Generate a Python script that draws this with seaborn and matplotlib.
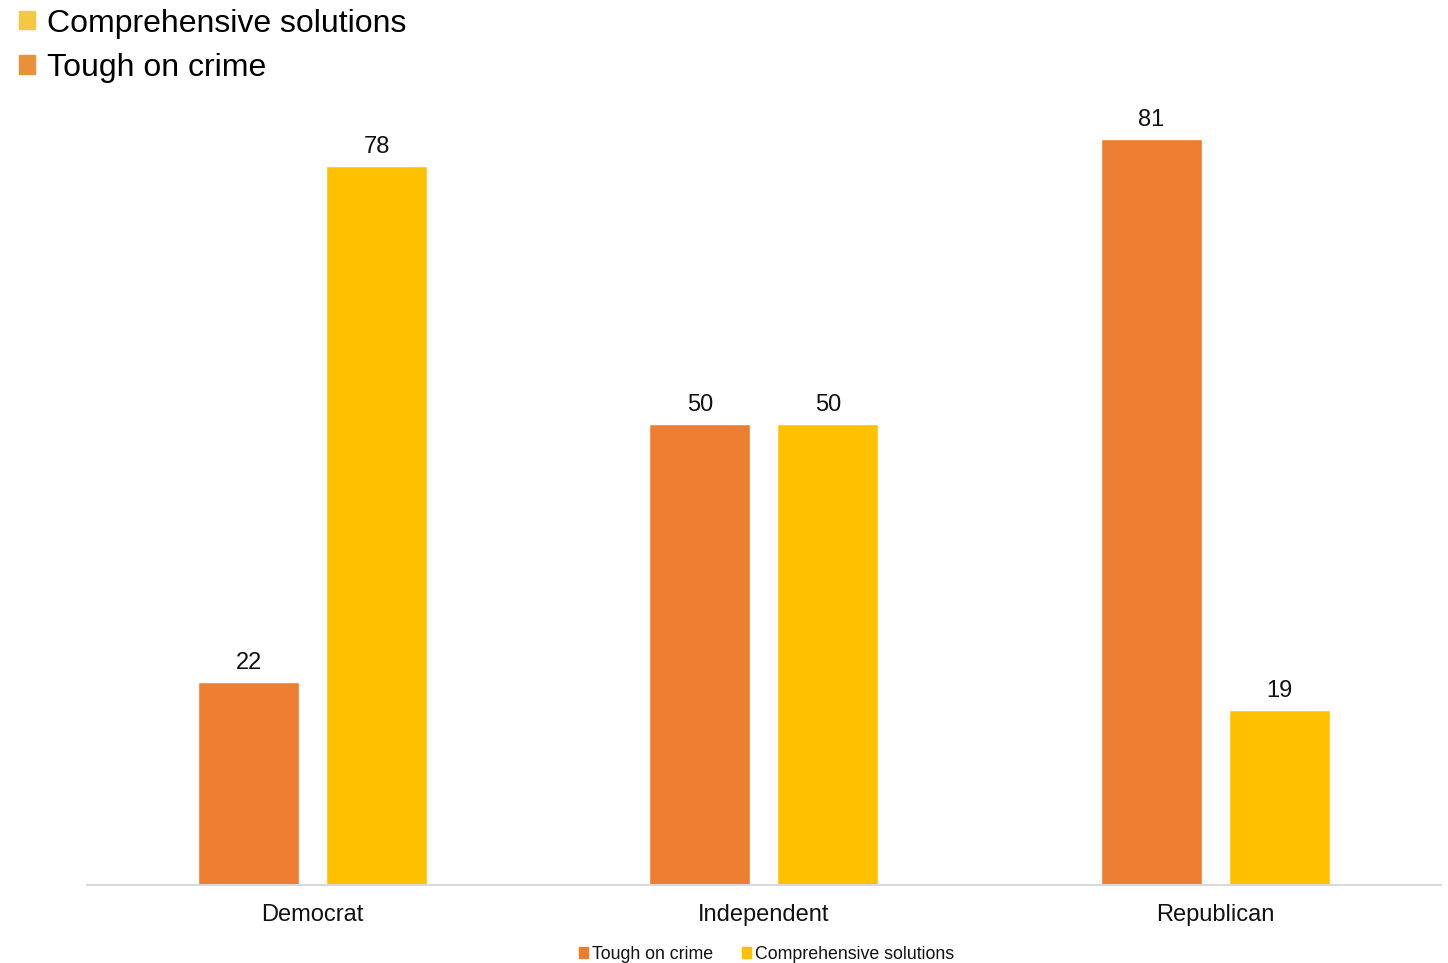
import pandas as pd
import seaborn as sns
import matplotlib.pyplot as plt
from matplotlib.patches import Patch

parties = ['Democrat', 'Independent', 'Republican']
series = ['Tough on crime', 'Comprehensive solutions']
tough = [22, 50, 81]
comprehensive = [78, 50, 19]
colors = {'Tough on crime': '#ED7D31', 'Comprehensive solutions': '#FFC000'}

rows = []
for i in range(len(parties)):
    rows.append([parties[i], 'Tough on crime', tough[i]])
    rows.append([parties[i], 'Comprehensive solutions', comprehensive[i]])
df = pd.DataFrame(rows, columns=['Party', 'Answer', 'Percent'])

sns.set_style('white')
plt.rcParams['font.family'] = ['Liberation Sans', 'DejaVu Sans']

fig = plt.figure(figsize=(14.48, 9.63), dpi=100)
ax = fig.add_axes([0.060, 0.081, 0.935, 0.815])

sns.barplot(data=df, x='Party', y='Percent', hue='Answer', hue_order=series,
            palette=colors, width=0.567, gap=0.21, saturation=1,
            legend=False, ax=ax)

for c in ax.containers:
    ax.bar_label(c, fmt='%d', padding=6, fontsize=17, color='#111111')

ax.set_xlim(-0.5, 2.5)
ax.set_ylim(0, 85.2)
ax.set_xlabel('')
ax.set_ylabel('')
ax.set_yticks([])
ax.tick_params(axis='x', length=0, labelsize=17, pad=13.5, colors='#111111')
for s in ['top', 'right', 'left']:
    ax.spines[s].set_visible(False)
ax.spines['bottom'].set_color('#D9D9D9')
ax.spines['bottom'].set_linewidth(1.5)

# big legend in the top-left corner
top_handles = [Patch(color='#F5C842', label='Comprehensive solutions'),
               Patch(color='#E8913A', label='Tough on crime')]
fig.legend(handles=top_handles, loc='upper left', bbox_to_anchor=(-0.007, 1.021),
           frameon=False, fontsize=23, handlelength=0.5, handleheight=0.5,
           handletextpad=0.4, labelspacing=0.45, labelcolor='black')

# small legend at the bottom
bottom_handles = [Patch(color=colors[s], label=s) for s in series]
fig.legend(handles=bottom_handles, loc='center', bbox_to_anchor=(0.5295, 0.009),
           ncol=2, frameon=False, fontsize=12.8, handlelength=0.5, handleheight=0.5,
           handletextpad=0.25, columnspacing=1.6, labelcolor='#111111')

fig.savefig('out.png', dpi=100)
